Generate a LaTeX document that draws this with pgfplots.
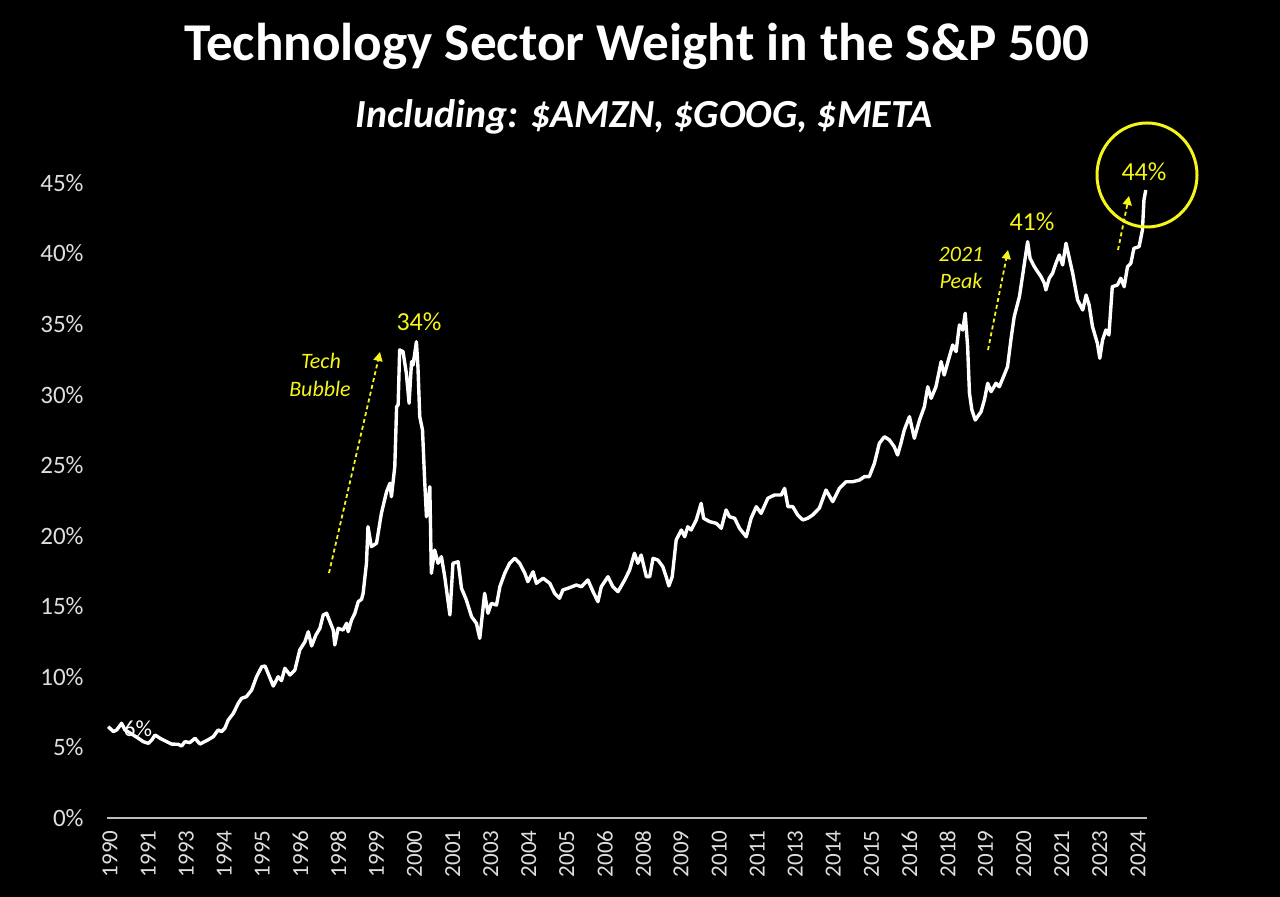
\documentclass[border=0pt]{standalone}
\usepackage{pgfplots}
\pgfplotsset{compat=1.18}
\usepackage{pgfplotstable}
\usepackage{fontspec}
\setmainfont{Carlito}
\usetikzlibrary{arrows.meta}
\definecolor{ylw}{RGB}{245,245,25}
\definecolor{lab}{RGB}{222,222,222}
\definecolor{axc}{RGB}{190,190,190}
\pgfplotstableread{
year value
1990.44 6.47
1990.61 6.12
1990.72 6.24
1990.88 6.71
1990.99 6.24
1991.16 6.02
1991.26 5.88
1991.43 5.65
1991.59 5.41
1991.76 5.29
1991.87 5.53
1991.98 5.88
1992.14 5.65
1992.36 5.41
1992.52 5.24
1992.74 5.22
1992.85 5.10
1992.96 5.41
1993.12 5.34
1993.29 5.65
1993.45 5.24
1993.67 5.48
1993.89 5.76
1994.05 6.24
1994.16 6.12
1994.27 6.36
1994.38 6.94
1994.55 7.42
1994.71 8.13
1994.82 8.48
1994.98 8.60
1995.15 9.07
1995.31 10.01
1995.48 10.72
1995.59 10.77
1995.69 10.25
1995.86 9.35
1996.02 10.01
1996.13 9.73
1996.24 10.61
1996.41 10.13
1996.57 10.49
1996.73 11.91
1996.90 12.49
1997.01 13.20
1997.12 12.19
1997.26 12.97
1997.39 13.44
1997.50 14.39
1997.61 14.51
1997.72 13.91
1997.83 13.32
1997.88 12.26
1997.99 13.44
1998.15 13.32
1998.27 13.80
1998.32 13.20
1998.43 14.03
1998.54 14.51
1998.65 15.33
1998.76 15.50
1998.81 15.92
1998.92 18.05
1998.97 20.64
1999.08 19.23
1999.25 19.47
1999.41 21.59
1999.58 23.12
1999.69 23.72
1999.74 22.77
1999.85 24.90
1999.91 29.15
1999.96 29.27
2000.01 33.17
2000.12 33.05
2000.23 31.51
2000.32 29.39
2000.40 32.34
2000.45 32.10
2000.56 33.75
2000.61 31.98
2000.67 28.44
2000.76 27.50
2000.83 23.95
2000.89 21.35
2001.00 23.48
2001.05 17.34
2001.16 18.99
2001.27 18.05
2001.38 18.52
2001.49 17.10
2001.66 14.39
2001.76 18.05
2001.93 18.16
2002.04 16.28
2002.20 15.45
2002.37 14.27
2002.53 13.80
2002.64 12.73
2002.80 15.92
2002.91 14.51
2003.02 15.21
2003.19 15.09
2003.30 16.39
2003.46 17.34
2003.62 18.05
2003.79 18.40
2003.95 18.05
2004.12 17.34
2004.22 16.75
2004.39 17.45
2004.50 16.63
2004.72 16.99
2004.94 16.63
2005.10 15.92
2005.26 15.57
2005.37 16.16
2005.54 16.28
2005.81 16.51
2005.98 16.39
2006.19 16.87
2006.36 16.04
2006.52 15.33
2006.63 16.39
2006.85 17.10
2007.01 16.39
2007.18 16.04
2007.40 16.87
2007.56 17.57
2007.72 18.76
2007.83 18.05
2007.94 18.64
2008.11 17.10
2008.22 17.10
2008.33 18.40
2008.49 18.28
2008.65 17.81
2008.76 17.10
2008.85 16.44
2008.96 17.10
2009.09 19.70
2009.26 20.41
2009.37 19.93
2009.47 20.64
2009.58 20.41
2009.75 21.12
2009.91 22.30
2009.99 21.24
2010.19 21.00
2010.41 20.88
2010.57 20.53
2010.73 21.83
2010.84 21.35
2011.01 21.24
2011.17 20.53
2011.39 19.93
2011.55 21.24
2011.72 22.06
2011.88 21.59
2012.10 22.66
2012.32 22.89
2012.54 22.89
2012.65 23.36
2012.76 22.06
2012.92 22.06
2013.08 21.47
2013.25 21.12
2013.41 21.24
2013.57 21.47
2013.79 21.95
2014.01 23.24
2014.23 22.42
2014.45 23.36
2014.67 23.83
2014.89 23.83
2015.11 23.95
2015.27 24.19
2015.43 24.19
2015.60 25.14
2015.76 26.55
2015.93 27.02
2016.09 26.79
2016.25 26.31
2016.36 25.72
2016.47 26.55
2016.58 27.50
2016.75 28.44
2016.91 26.91
2017.08 28.20
2017.24 29.15
2017.35 30.56
2017.46 29.74
2017.62 30.56
2017.79 32.34
2017.89 31.39
2018.06 32.69
2018.17 33.52
2018.28 33.05
2018.39 34.94
2018.50 34.58
2018.58 35.77
2018.66 33.40
2018.72 30.10
2018.80 28.91
2018.91 28.20
2019.10 28.79
2019.21 29.62
2019.32 30.81
2019.43 30.21
2019.59 30.81
2019.70 30.56
2019.86 31.39
2019.97 31.98
2020.08 33.87
2020.19 35.53
2020.36 36.94
2020.46 38.36
2020.63 40.84
2020.71 39.66
2020.85 39.07
2020.96 38.71
2021.07 38.36
2021.18 37.89
2021.23 37.42
2021.34 38.25
2021.45 38.60
2021.56 39.31
2021.67 39.90
2021.78 39.19
2021.89 40.73
2022.00 39.66
2022.11 38.60
2022.27 36.71
2022.44 36.00
2022.55 37.06
2022.65 36.35
2022.76 34.82
2022.92 33.64
2023.00 32.58
2023.09 33.87
2023.20 34.58
2023.30 34.23
2023.41 37.65
2023.58 37.77
2023.69 38.25
2023.80 37.65
2023.91 39.07
2024.02 39.31
2024.12 40.37
2024.29 40.49
2024.40 41.67
2024.45 43.80
2024.51 44.50
}\techdata
\begin{document}
\begin{tikzpicture}
\path[use as bounding box, fill=black] (0,0) rectangle (640pt,448.5pt);
\begin{axis}[
  at={(53.5pt,39.5pt)}, anchor=south west,
  scale only axis, width=520pt, height=317.5pt,
  xmin=1990.40, xmax=2024.55, ymin=0, ymax=45,
  clip=false,
  axis line style={draw=none},
  major tick length=0pt,
  xtick={1990.5,1991.75,...,2024.3},
  xticklabels={1990,1991,1993,1994,1995,1996,1998,1999,2000,2001,2003,2004,2005,2006,2008,2009,2010,2011,2013,2014,2015,2016,2018,2019,2020,2021,2023,2024},
  ytick={0,5,...,45},
  yticklabels={0\%,5\%,10\%,15\%,20\%,25\%,30\%,35\%,40\%,45\%},
  tick label style={text=lab},
  xticklabel style={rotate=90, anchor=east, inner sep=0pt, font=\fontsize{11.5pt}{13pt}\selectfont},
  xticklabel shift=6pt,
  yticklabel style={anchor=east, inner sep=0pt, font=\fontsize{12.5pt}{14pt}\selectfont},
  yticklabel shift=11.5pt,
]
\draw[axc, line width=1pt] (rel axis cs:0,0) -- (rel axis cs:1,0);
\addplot[white, line width=1.7pt, line join=round] table[x=year, y=value] {\techdata};
\end{axis}
\begin{scope}[x=0.5pt, y=-0.5pt, yshift=448.5pt]
  \node[white, font=\bfseries\fontsize{26.6pt}{30pt}\selectfont] at (637,46) {Technology Sector Weight in the S\&P 500};
  \node[white, font=\bfseries\itshape\fontsize{19.9pt}{22pt}\selectfont] at (644,117) {Including: \$AMZN, \$GOOG, \$META};
  \node[white, font=\fontsize{11.5pt}{13pt}\selectfont] at (138,729) {6\%};
  \node[ylw, font=\fontsize{13pt}{15pt}\selectfont] at (419,322) {34\%};
  \node[ylw, font=\fontsize{13pt}{15pt}\selectfont] at (1032,222) {41\%};
  \node[ylw, font=\fontsize{13pt}{15pt}\selectfont] at (1144,172) {44\%};
  \node[ylw, font=\itshape\fontsize{11pt}{13pt}\selectfont] at (321,361) {Tech};
  \node[ylw, font=\itshape\fontsize{11pt}{13pt}\selectfont] at (320,389) {Bubble};
  \node[ylw, font=\itshape\fontsize{11pt}{13pt}\selectfont] at (961,254) {2021};
  \node[ylw, font=\itshape\fontsize{11pt}{13pt}\selectfont] at (961,281) {Peak};
  \draw[ylw, line width=0.9pt, dash pattern=on 2pt off 1.5pt, -{Triangle[width=4.5pt,length=4.5pt]}] (329,573) -- (380,352);
  \draw[ylw, line width=0.9pt, dash pattern=on 2pt off 1.5pt, -{Triangle[width=4.5pt,length=4.5pt]}] (988,350) -- (1008,250);
  \draw[ylw, line width=0.9pt, dash pattern=on 2pt off 1.5pt, -{Triangle[width=4.5pt,length=4.5pt]}] (1118,250) -- (1129,196);
  \draw[ylw, line width=1.5pt] (1147,175) ellipse [x radius=50, y radius=52];
\end{scope}
\end{tikzpicture}
\end{document}
